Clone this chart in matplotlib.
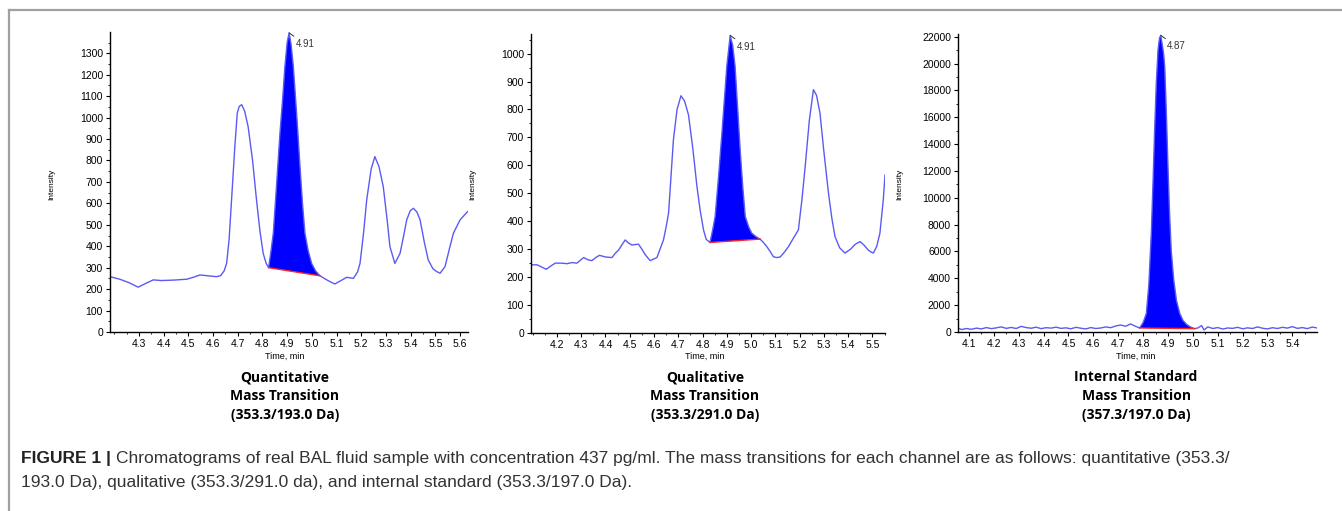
import matplotlib.pyplot as plt
from matplotlib.ticker import MultipleLocator, AutoMinorLocator

# ---- panel 1: quantitative transition (353.3/193.0) ----
q_time = [4.183, 4.223, 4.26, 4.297, 4.33, 4.358, 4.39, 4.44, 4.493, 4.52, 4.547, 4.58,
          4.614, 4.63, 4.645, 4.655, 4.665, 4.675, 4.688, 4.698, 4.706, 4.716, 4.728,
          4.742, 4.76, 4.776, 4.79, 4.803, 4.815, 4.825]
q_int = [258, 246, 230, 209, 228, 243, 240, 242, 246, 255, 266, 262, 258, 262, 285, 320,
         430, 616, 860, 1020, 1052, 1060, 1030, 958, 800, 616, 470, 367, 320, 300]
q_peak_time = [4.825, 4.835, 4.844, 4.858, 4.871, 4.882, 4.891, 4.9, 4.908, 4.916, 4.925,
               4.94, 4.952, 4.962, 4.972, 4.985, 4.999, 5.015, 5.033]
q_peak_int = [300, 380, 461, 700, 928, 1090, 1238, 1350, 1395, 1340, 1238, 990, 772, 600,
              461, 380, 320, 285, 262]
q_tail_time = [5.033, 5.05, 5.073, 5.093, 5.115, 5.141, 5.168, 5.185, 5.195, 5.21, 5.222,
               5.24, 5.255, 5.272, 5.289, 5.305, 5.316, 5.336, 5.357, 5.37, 5.384, 5.398,
               5.411, 5.425, 5.438, 5.455, 5.471, 5.49, 5.505, 5.519, 5.539, 5.559, 5.573,
               5.6, 5.63]
q_tail_int = [262, 250, 235, 224, 238, 255, 250, 280, 320, 470, 616, 760, 818, 770, 678,
              520, 398, 320, 367, 440, 523, 565, 577, 560, 523, 420, 336, 295, 282, 274,
              305, 398, 461, 523, 561]

# ---- panel 2: qualitative transition (353.3/291.0) ----
l_time = [4.093, 4.118, 4.137, 4.156, 4.175, 4.193, 4.22, 4.241, 4.262, 4.282, 4.31, 4.328,
          4.344, 4.36, 4.375, 4.4, 4.427, 4.44, 4.454, 4.481, 4.495, 4.509, 4.536, 4.55,
          4.564, 4.584, 4.612, 4.639, 4.65, 4.66, 4.67, 4.68, 4.695, 4.711, 4.726, 4.742,
          4.76, 4.777, 4.79, 4.804, 4.815, 4.831]
l_int = [244, 244, 236, 228, 240, 250, 250, 248, 252, 250, 270, 262, 259, 270, 278, 272,
         270, 285, 297, 333, 322, 315, 318, 300, 280, 259, 270, 333, 380, 429, 560, 692,
         800, 849, 830, 781, 660, 524, 440, 369, 335, 324]
l_peak_time = [4.831, 4.842, 4.852, 4.866, 4.88, 4.9, 4.914, 4.924, 4.934, 4.945, 4.955,
               4.966, 4.976, 4.99, 5.003, 5.02, 5.037]
l_peak_int = [324, 370, 417, 560, 716, 955, 1065, 1030, 955, 800, 656, 520, 417, 380, 357,
              345, 336]
l_tail_time = [5.037, 5.05, 5.065, 5.08, 5.092, 5.105, 5.12, 5.138, 5.154, 5.175, 5.195,
               5.21, 5.223, 5.24, 5.257, 5.27, 5.284, 5.3, 5.319, 5.333, 5.346, 5.365, 5.387,
               5.41, 5.43, 5.449, 5.465, 5.483, 5.494, 5.504, 5.518, 5.531, 5.545, 5.552]
l_tail_int = [336, 325, 309, 290, 273, 270, 272, 290, 309, 340, 369, 480, 596, 760, 871,
              850, 787, 650, 501, 410, 345, 305, 286, 300, 318, 327, 315, 297, 290, 286,
              310, 357, 477, 566]

# ---- panel 3: internal standard (357.3/197.0) ----
s_time = [4.056, 4.07, 4.09, 4.11, 4.13, 4.15, 4.17, 4.19, 4.21, 4.23, 4.25, 4.27, 4.29,
          4.31, 4.33, 4.35, 4.37, 4.39, 4.41, 4.43, 4.45, 4.47, 4.49, 4.51, 4.53, 4.55,
          4.57, 4.59, 4.61, 4.63, 4.65, 4.67, 4.69, 4.71, 4.73, 4.75, 4.77, 4.786]
s_int = [300, 180, 260, 200, 290, 230, 330, 250, 310, 380, 270, 340, 260, 420, 330, 280,
         360, 250, 320, 290, 360, 270, 310, 240, 350, 280, 230, 330, 260, 300, 380, 320,
         450, 520, 430, 600, 420, 300]
s_peak_time = [4.786, 4.8, 4.813, 4.823, 4.833, 4.84, 4.846, 4.853, 4.86, 4.866, 4.871,
               4.877, 4.882, 4.887, 4.894, 4.9, 4.906, 4.913, 4.923, 4.934, 4.947, 4.96,
               4.975, 4.99, 5.007]
s_peak_int = [300, 700, 1370, 3500, 7340, 11200, 14800, 18500, 21000, 21900, 22100, 21400,
              20800, 19760, 16000, 12300, 9000, 6090, 3900, 2360, 1400, 870, 560, 380, 250]
s_tail_time = [5.007, 5.02, 5.035, 5.045, 5.06, 5.08, 5.1, 5.12, 5.14, 5.16, 5.18, 5.2,
               5.22, 5.24, 5.26, 5.28, 5.3, 5.32, 5.34, 5.36, 5.38, 5.4, 5.42, 5.44, 5.46,
               5.48, 5.499]
s_tail_int = [250, 300, 480, 150, 380, 260, 330, 220, 300, 270, 350, 240, 310, 260, 380,
              280, 230, 320, 260, 350, 290, 400, 270, 330, 250, 370, 300]

peak_labels = ['4.91', '4.91', '4.87']
x_ticks = [[4.3, 4.4, 4.5, 4.6, 4.7, 4.8, 4.9, 5.0, 5.1, 5.2, 5.3, 5.4, 5.5, 5.6],
           [4.2, 4.3, 4.4, 4.5, 4.6, 4.7, 4.8, 4.9, 5.0, 5.1, 5.2, 5.3, 5.4, 5.5],
           [4.1, 4.2, 4.3, 4.4, 4.5, 4.6, 4.7, 4.8, 4.9, 5.0, 5.1, 5.2, 5.3, 5.4]]
titles = ['Quantitative\nMass Transition\n(353.3/193.0 Da)',
          'Qualitative\nMass Transition\n(353.3/291.0 Da)',
          'Internal Standard\nMass Transition\n(357.3/197.0 Da)']

W, H = 1342, 511
fig = plt.figure(figsize=(W / 100, H / 100), dpi=100)


def px_axes(left, top, right, bottom):
    return fig.add_axes([left / W, 1 - bottom / H, (right - left) / W, (bottom - top) / H])


# frame lines of the figure box
fig.add_artist(plt.Line2D([9 / W, 1], [1 - 10 / H, 1 - 10 / H], color='#a0a0a0', lw=1.6))
fig.add_artist(plt.Line2D([9 / W, 9 / W], [0, 1 - 10 / H], color='#a0a0a0', lw=1.6))

panels = [
    dict(box=(110, 32, 468, 332), xlim=(4.183, 5.632), ylim=(0, 1399), ystep=100,
         pre=(q_time, q_int), peak=(q_peak_time, q_peak_int), post=(q_tail_time, q_tail_int),
         ylab_x=52, cx=285),
    dict(box=(531, 34, 885, 333), xlim=(4.093, 5.552), ylim=(0, 1070), ystep=100,
         pre=(l_time, l_int), peak=(l_peak_time, l_peak_int), post=(l_tail_time, l_tail_int),
         ylab_x=473, cx=705),
    dict(box=(958, 34, 1317, 332), xlim=(4.056, 5.499), ylim=(0, 22200), ystep=2000,
         pre=(s_time, s_int), peak=(s_peak_time, s_peak_int), post=(s_tail_time, s_tail_int),
         ylab_x=900, cx=1136),
]

line_col = '#5a5af5'
for i, p in enumerate(panels):
    ax = px_axes(*p['box'])
    px, py = p['peak']
    t = p['pre'][0] + px[1:-1] + p['post'][0]
    v = p['pre'][1] + py[1:-1] + p['post'][1]
    ax.fill(px, py, color='#0000ff', lw=0)
    ax.plot(t, v, color=line_col, lw=1.0)
    ax.plot([px[0], px[-1]], [py[0], py[-1]], color='#ff2020', lw=1.0)

    # apex label with leader
    k = py.index(max(py))
    ax.annotate(peak_labels[i], xy=(px[k], py[k]), xytext=(4.5, -8), textcoords='offset points',
                fontsize=7, color='#333333', family='Liberation Sans', va='center',
                arrowprops=dict(arrowstyle='-', color='#333333', lw=0.7, shrinkA=0, shrinkB=0))

    ax.set_xlim(*p['xlim'])
    ax.set_ylim(*p['ylim'])
    ax.set_xticks(x_ticks[i])
    ax.set_xticklabels([f'{x:.1f}' for x in x_ticks[i]])
    ax.yaxis.set_major_locator(MultipleLocator(p['ystep']))
    ax.xaxis.set_minor_locator(AutoMinorLocator(2))
    ax.yaxis.set_minor_locator(AutoMinorLocator(2))
    for s in ['top', 'right']:
        ax.spines[s].set_visible(False)
    for s in ['left', 'bottom']:
        ax.spines[s].set_linewidth(1.0)
    ax.tick_params(which='major', length=3, width=0.8, labelsize=7.5, pad=2)
    ax.tick_params(which='minor', length=1.5, width=0.6)
    for lab in ax.get_xticklabels() + ax.get_yticklabels():
        lab.set_family('Liberation Sans')

    fig.text(p['ylab_x'] / W, 1 - 184 / H, 'Intensity', rotation=90, fontsize=6,
             family='Liberation Sans', ha='center', va='center')
    fig.text(p['cx'] / W, 1 - 356 / H, 'Time, min', fontsize=6.5,
             family='Liberation Sans', ha='center', va='center')
    fig.text(p['cx'] / W, 1 - 396 / H, titles[i], fontsize=10, weight='bold',
             family='Open Sans', ha='center', va='center', linespacing=1.45)

# caption
cap1 = ('Chromatograms of real BAL fluid sample with concentration 437 pg/ml. The mass '
        'transitions for each channel are as follows: quantitative (353.3/')
cap2 = '193.0 Da), qualitative (353.3/291.0 da), and internal standard (353.3/197.0 Da).'
bold = fig.text(21 / W, 1 - 458 / H, 'FIGURE 1 | ', fontsize=12.5, weight='bold',
                family='Liberation Sans', color='#222222', va='center')
fig.canvas.draw()
bb = bold.get_window_extent()
fig.text(bb.x1 / W, 1 - 458 / H, cap1, fontsize=12.5, family='Liberation Sans',
         color='#333333', va='center')
fig.text(21 / W, 1 - 482 / H, cap2, fontsize=12.5, family='Liberation Sans',
         color='#333333', va='center')

fig.savefig('out.png', dpi=100)
